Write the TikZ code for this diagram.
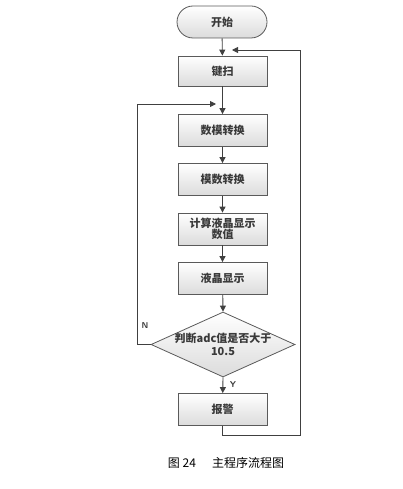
\documentclass[tikz,border=0pt]{standalone}
\usepackage{fontspec}
\newfontfamily\cjk{Noto Sans CJK SC}
\usetikzlibrary{shapes.geometric,arrows.meta}
\definecolor{lnc}{HTML}{404040}
\definecolor{bdc}{HTML}{5A5A5A}
\definecolor{txc}{HTML}{3A3A3A}
\tikzset{
  proc/.style={rectangle, draw=bdc, line width=0.8pt, minimum width=89pt, minimum height=32pt,
    top color=white, bottom color=black!14, inner sep=1pt, align=center,
    font=\cjk\bfseries\fontsize{11}{12}\selectfont, text=txc},
  term/.style={proc, rounded corners=16pt, minimum width=90pt},
  dec/.style={diamond, draw=bdc, line width=0.8pt, minimum width=144pt, minimum height=65pt,
    inner sep=0pt, top color=white, bottom color=black!14},
  dectext/.style={align=center, font=\cjk\bfseries\fontsize{11}{13}\selectfont, text=txc, inner sep=0pt},
  arr/.style={draw=lnc, line width=0.9pt, -{Triangle[width=6pt,length=6pt]}},
  ln/.style={draw=lnc, line width=0.9pt},
  yn/.style={font=\sffamily\bfseries\fontsize{8.5}{9}\selectfont, text=txc, inner sep=0pt},
  captext/.style={font=\cjk\fontsize{12}{14}\selectfont, inner sep=0pt}
}
\begin{document}
\begin{tikzpicture}[x=1pt,y=-1pt]
\useasboundingbox (0,0) rectangle (402,489);
\node[term] (start) at (222,22) {开始};
\node[proc, minimum height=30pt] (key) at (222.5,71) {键扫};
\node[proc] (dm) at (222.5,130.5) {数模转换};
\node[proc] (md) at (222.5,179.5) {模数转换};
\node[proc] (calc) at (222.5,229) {计算液晶显示\\[-1pt]数值};
\node[proc] (lcd) at (222.5,278.5) {液晶显示};
\node[dec] (dec) at (223,344.5) {};
\node[dectext] (dect) at (223,344.5) {判断adc值是否大于\\10.5};
\node[proc] (alarm) at (222.5,409.5) {报警};
\node[yn] (nlab) at (145,326) {N};
\node[yn] (ylab) at (233,385) {Y};
\node[captext] (caption) at (226,463) {图 24\hspace{16pt}主程序流程图};

\coordinate (nl) at (137,104);
\coordinate (nin) at (216,104);
\coordinate (rb) at (300,435);
\coordinate (yin) at (232,50);

\draw[arr] (start) -- (key);
\draw[arr] (key) -- (dm);
\draw[arr] (dm) -- (md);
\draw[arr] (md) -- (calc);
\draw[arr] (calc) -- (lcd);
\draw[arr] (lcd) -- (dec.north);
\draw[arr] (dec.south) -- (alarm);
\draw[arr] (dec.west) -| (nl) -- (nin);
\draw[arr] (alarm.south) |- (rb) |- (yin);
\end{tikzpicture}
\end{document}
